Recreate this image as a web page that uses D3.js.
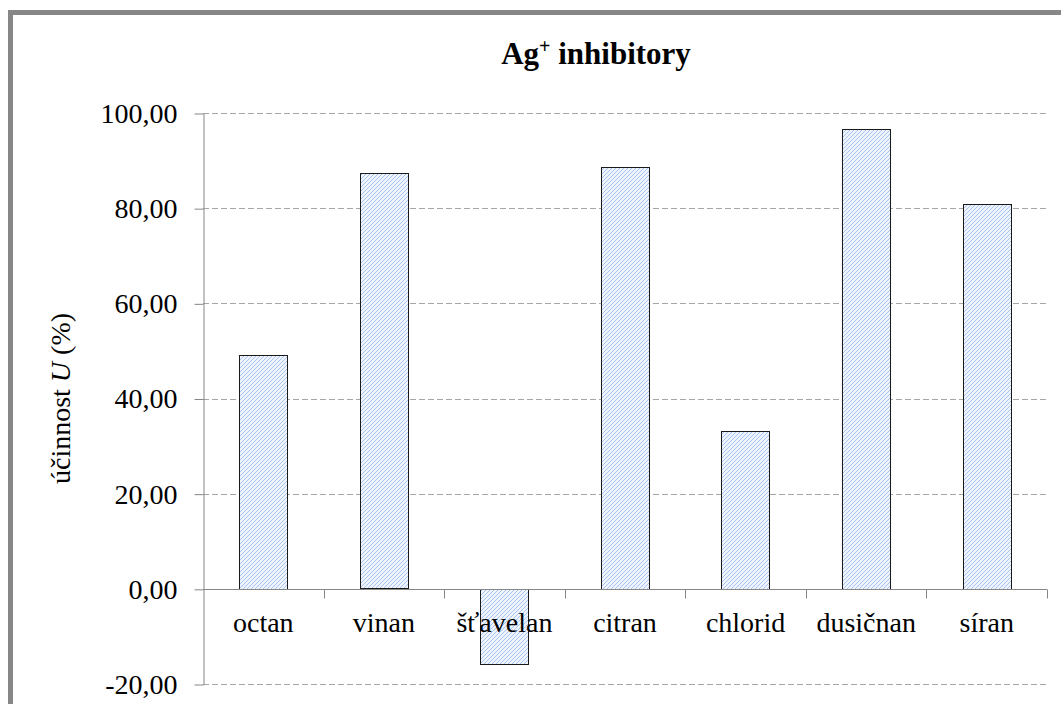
<!DOCTYPE html>
<html>
<head>
<meta charset="utf-8">
<script src="https://cdn.jsdelivr.net/npm/d3@7"></script>
<style>
  body { margin: 0; background: #fff; }
  text { font-family: "Liberation Serif", "Times New Roman", serif; fill: #000; }
</style>
</head>
<body>
<div id="chart"></div>
<script>
// data
var categories = ["octan", "vinan", "šťavelan", "citran", "chlorid", "dusičnan", "síran"];
var values = [49.1, 87.3, -15.8, 88.7, 33.2, 96.6, 80.9];
var yTicks = [-20, 0, 20, 40, 60, 80, 100];

var width = 1061, height = 704;
var plotLeft = 203, plotRight = 1047, plotTop = 113, plotBottom = 684;

var svg = d3.select("#chart")
  .append("svg")
    .attr("width", width)
    .attr("height", height);

// pixel hatch like the excel pattern fill
var defs = svg.append("defs");
var pat = defs.append("pattern")
    .attr("id", "hatch")
    .attr("patternUnits", "userSpaceOnUse")
    .attr("width", 4)
    .attr("height", 4);
pat.append("rect")
    .attr("width", 4)
    .attr("height", 4)
    .attr("fill", "#eef3fc");
pat.selectAll("rect.px")
  .data([0, 1, 2, 3])
  .enter().append("rect")
    .attr("class", "px")
    .attr("x", function(d) { return d; })
    .attr("y", function(d) { return 3 - d; })
    .attr("width", 1)
    .attr("height", 1)
    .attr("shape-rendering", "crispEdges")
    .attr("fill", "#a6c3f2");

// outer frame (runs off the bottom / right of the picture)
svg.append("rect")
    .attr("x", 10.5)
    .attr("y", 12.5)
    .attr("width", 1200)
    .attr("height", 900)
    .attr("fill", "#fff")
    .attr("stroke", "#878787")
    .attr("stroke-width", 5);

var x = d3.scaleBand()
    .domain(categories)
    .range([plotLeft, plotRight])
    .paddingInner(0)
    .paddingOuter(0);

var y = d3.scaleLinear()
    .domain([-20, 100])
    .range([plotBottom, plotTop]);

var loc = d3.formatLocale({decimal: ",", thousands: " ", grouping: [3], currency: ["", ""], minus: "-"});
var fmt = loc.format(".2f");

// gridlines
svg.append("g")
  .selectAll("line")
  .data(yTicks)
  .enter().append("line")
    .attr("x1", plotLeft)
    .attr("x2", plotRight)
    .attr("y1", function(d) { return Math.round(y(d)) + 0.5; })
    .attr("y2", function(d) { return Math.round(y(d)) + 0.5; })
    .attr("stroke", "#a6a6a6")
    .attr("stroke-dasharray", "6,3");

// y axis
var yAxis = svg.append("g")
    .attr("transform", "translate(" + (plotLeft + 0.5) + ",0.5)")
    .call(d3.axisLeft(y).tickValues(yTicks).tickFormat(fmt).tickSize(9).tickSizeOuter(0).tickPadding(17));
yAxis.select(".domain").attr("stroke", "#868686");
yAxis.selectAll(".tick line").attr("stroke", "#868686");
yAxis.selectAll(".tick text")
    .attr("font-size", "28px")
    .attr("dy", "0.32em")
    .style("font-family", "'Liberation Serif', serif");

// bars
var bw = x.bandwidth() * 0.4;
svg.append("g")
  .selectAll("rect")
  .data(values)
  .enter().append("rect")
    .attr("x", function(d, i) { return Math.round(x(categories[i]) + (x.bandwidth() - bw) / 2) + 0.5; })
    .attr("y", function(d) { return Math.round(y(Math.max(0, d))) + 0.5; })
    .attr("width", Math.round(bw))
    .attr("height", function(d) { return Math.round(Math.abs(y(d) - y(0))); })
    .attr("fill", "url(#hatch)")
    .attr("stroke", "#1a1a1a")
    .attr("stroke-width", 1);

// x axis at zero with ticks between categories
var y0 = Math.round(y(0)) + 0.5;
var gx = svg.append("g");
gx.append("line")
    .attr("x1", plotLeft)
    .attr("x2", plotRight)
    .attr("y1", y0)
    .attr("y2", y0)
    .attr("stroke", "#868686");
var bounds = categories.map(function(c) { return x(c); }).concat([plotRight]);
gx.selectAll("line.tk")
  .data(bounds.slice(1))
  .enter().append("line")
    .attr("class", "tk")
    .attr("x1", function(d) { return Math.round(d) + 0.5; })
    .attr("x2", function(d) { return Math.round(d) + 0.5; })
    .attr("y1", y0)
    .attr("y2", y0 + 9)
    .attr("stroke", "#868686");
gx.selectAll("text")
  .data(categories)
  .enter().append("text")
    .attr("x", function(d) { return x(d) + x.bandwidth() / 2; })
    .attr("y", y0 + 42)
    .attr("text-anchor", "middle")
    .attr("font-size", "28px")
    .text(function(d) { return d; });

// title
var title = svg.append("text")
    .attr("x", 596)
    .attr("y", 64)
    .attr("text-anchor", "middle")
    .attr("font-size", "31px")
    .attr("font-weight", "bold");
title.append("tspan").text("Ag");
title.append("tspan").attr("font-size", "20px").attr("dy", -11).text("+");
title.append("tspan").attr("dy", 11).text(" inhibitory");

// y axis title
var yt = svg.append("text")
    .attr("transform", "translate(70," + ((plotTop + plotBottom) / 2) + ") rotate(-90)")
    .attr("text-anchor", "middle")
    .attr("font-size", "28px");
yt.append("tspan").text("účinnost ");
yt.append("tspan").attr("font-style", "italic").text("U");
yt.append("tspan").text(" (%)");
</script>
</body>
</html>
